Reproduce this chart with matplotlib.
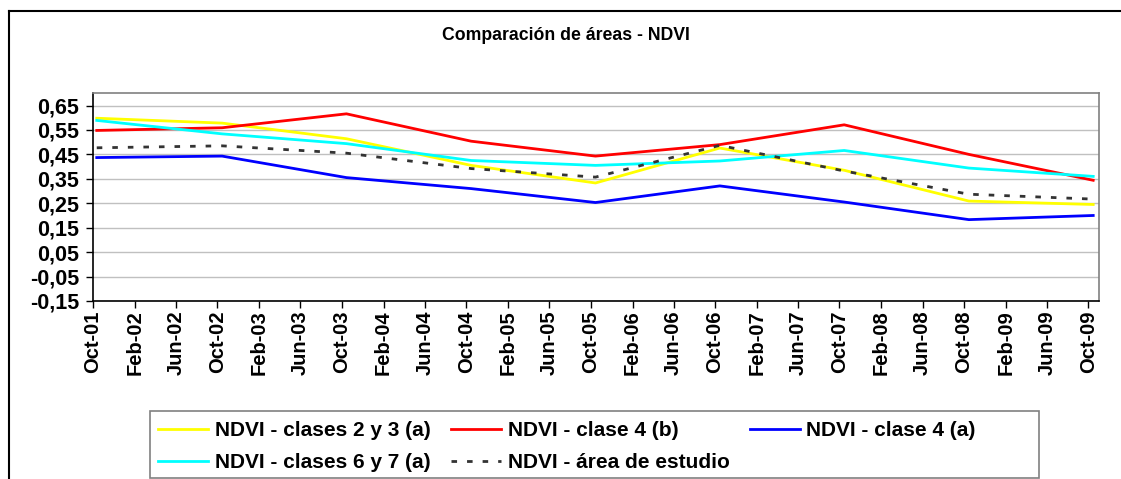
import matplotlib
matplotlib.use('Agg')
import matplotlib.pyplot as plt
import matplotlib.dates as mdates
from matplotlib.lines import Line2D
from matplotlib.patches import Rectangle
from matplotlib.ticker import FuncFormatter
import pandas as pd

plt.rcParams['font.family'] = ['Liberation Sans', 'DejaVu Sans']
plt.rcParams['font.weight'] = 'bold'

# NDVI sampled every October 2001-2009
fechas = pd.to_datetime(['2001-10-12', '2002-10-15', '2003-10-15', '2004-10-15', '2005-10-15',
                         '2006-10-15', '2007-10-15', '2008-10-15', '2009-10-15'])
clases_2_3 = [0.598, 0.578, 0.514, 0.405, 0.333, 0.476, 0.385, 0.259, 0.245]
clase_4b = [0.548, 0.559, 0.616, 0.504, 0.443, 0.490, 0.571, 0.450, 0.344]
clase_4a = [0.437, 0.443, 0.355, 0.310, 0.253, 0.321, 0.255, 0.183, 0.200]
clases_6_7 = [0.589, 0.534, 0.494, 0.425, 0.405, 0.423, 0.466, 0.394, 0.360]
area_estudio = [0.477, 0.485, 0.455, 0.392, 0.357, 0.487, 0.382, 0.287, 0.267]

etiquetas = ['NDVI - clases 2 y 3 (a)', 'NDVI - clase 4 (b)', 'NDVI - clase 4 (a)',
             'NDVI - clases 6 y 7 (a)', 'NDVI - área de estudio']
y_ticks = [-0.15, -0.05, 0.05, 0.15, 0.25, 0.35, 0.45, 0.55, 0.65]

W, H = 1121, 479
fig = plt.figure(figsize=(W / 100, H / 100), dpi=100)
ax = fig.add_axes([93 / W, 1 - 301 / H, (1099 - 93) / W, (301 - 93.3) / H])

lw = 2.0
l1, = ax.plot(fechas, clases_2_3, color='#FFFF00', lw=lw)
l2, = ax.plot(fechas, clase_4b, color='#FF0000', lw=lw)
l3, = ax.plot(fechas, clase_4a, color='#0000FF', lw=lw)
l4, = ax.plot(fechas, clases_6_7, color='#00FFFF', lw=lw)
l5, = ax.plot(fechas, area_estudio, color='#333333', lw=lw, dashes=(2.0, 3.6))

ax.set_ylim(-0.15, 0.70)
ax.set_yticks(y_ticks)
ax.yaxis.set_major_formatter(FuncFormatter(lambda v, p: ('%.2f' % v).replace('.', ',')))
ax.set_xlim(pd.Timestamp('2001-10-01'), pd.Timestamp('2009-11-01'))
ax.xaxis.set_major_locator(mdates.MonthLocator(bymonth=[2, 6, 10]))
ax.xaxis.set_major_formatter(mdates.DateFormatter('%b-%y'))
ax.grid(axis='y', color='#c0c0c0', lw=1)
ax.set_axisbelow(True)
for lab in ax.get_xticklabels():
    lab.set_rotation(90)
ax.tick_params(axis='both', direction='out', length=5, width=1, color='black')
ax.tick_params(axis='x', pad=2, labelsize=14.5)
ax.tick_params(axis='y', pad=5, labelsize=15.5)
for s in ['top', 'right']:
    ax.spines[s].set_color('#808080')
for s in ['left', 'bottom']:
    ax.spines[s].set_color('black')
for s in ax.spines.values():
    s.set_linewidth(1.2)

fig.text(566 / W, 1 - 35 / H, 'Comparación de áreas - NDVI', ha='center', va='center',
         fontsize=12.7, fontweight='bold')

# legend filled row by row, box drawn separately (wider than its entries)
handles = [l1, l4, l2, l5, l3]
labels = [etiquetas[0], etiquetas[3], etiquetas[1], etiquetas[4], etiquetas[2]]
leg = fig.legend(handles, labels, ncol=3, loc='upper left',
                 bbox_to_anchor=(148 / W, 1 - 411 / H), bbox_transform=fig.transFigure,
                 frameon=False, borderaxespad=0, fontsize=15,
                 handlelength=2.4, handletextpad=0.3, columnspacing=1.0,
                 labelspacing=0.6, borderpad=0.5)
for t in leg.get_texts():
    t.set_fontweight('bold')
fig.add_artist(Rectangle((150 / W, 1 - 478 / H), (1039 - 150) / W, (478 - 411) / H,
                         transform=fig.transFigure, fill=False, edgecolor='#808080', lw=1.2))

# chart frame (left and top edges visible)
fig.add_artist(Line2D([9 / W, 9 / W], [0, 1 - 10.7 / H], transform=fig.transFigure, color='black', lw=1.5))
fig.add_artist(Line2D([9 / W, 1], [1 - 10.7 / H, 1 - 10.7 / H], transform=fig.transFigure, color='black', lw=1.5))

fig.savefig('out.png', dpi=100)
